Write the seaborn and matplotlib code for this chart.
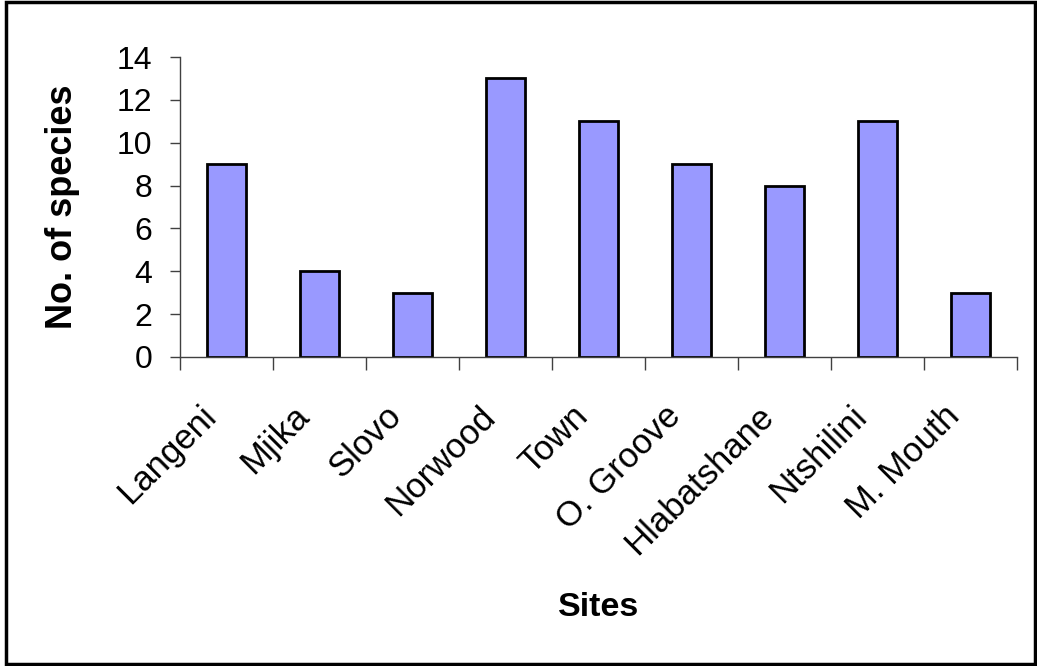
import matplotlib
matplotlib.use("Agg")
import matplotlib.pyplot as plt
import seaborn as sns
import pandas as pd
from matplotlib.patches import Rectangle
from matplotlib.ticker import FixedLocator

sites = ["Langeni", "Mjika", "Slovo", "Norwood", "Town", "O. Groove",
         "Hlabatshane", "Ntshilini", "M. Mouth"]
species = [9, 4, 3, 13, 11, 9, 8, 11, 3]
y_ticks = [0, 2, 4, 6, 8, 10, 12, 14]

sns.set_theme(style="white")
plt.rcParams["font.family"] = ["Liberation Sans", "DejaVu Sans"]
plt.rcParams.update({"text.color": "black", "axes.labelcolor": "black",
                     "xtick.color": "black", "ytick.color": "black"})

df = pd.DataFrame({"Sites": sites, "No. of species": species})

fig = plt.figure(figsize=(10.37, 6.66), dpi=100)
ax = fig.add_axes([0.1736, 0.464, 0.8071, 0.4504])

sns.barplot(data=df, x="Sites", y="No. of species", color="#9999FF",
            saturation=1, width=0.41, edgecolor="black", linewidth=2,
            ax=ax)

ax.set_xlim(-0.5, len(sites) - 0.5)
ax.set_ylim(0, 14)
ax.set_yticks(y_ticks)
ax.set_yticklabels([str(t) for t in y_ticks], fontsize=23)

# rotated category labels, their upper ends sitting just left of each bar centre;
# visible tick marks go on the boundaries between categories
label_offset = 0.17
ax.set_xticks([i - label_offset for i in range(len(sites))])
ax.set_xticklabels(sites, fontsize=25, rotation=45, ha="right",
                   va="center", rotation_mode="anchor")
ax.xaxis.set_minor_locator(FixedLocator([i - 0.5 for i in range(len(sites) + 1)]))
ax.tick_params(axis="x", which="major", length=0, pad=39)
ax.tick_params(axis="x", which="minor", length=9, width=1, color="#404040",
               direction="out", bottom=True)
ax.tick_params(axis="y", which="major", length=7, width=1, color="#404040",
               direction="out", left=True, pad=13)

for side in ["top", "right"]:
    ax.spines[side].set_visible(False)
for side in ["left", "bottom"]:
    ax.spines[side].set_color("#404040")
    ax.spines[side].set_linewidth(1)

ax.set_xlabel("Sites", fontsize=24.5, fontweight="bold")
ax.set_ylabel("No. of species", fontsize=26, fontweight="bold")
ax.xaxis.set_label_coords(0.5, -0.783)
ax.yaxis.label.set_va("center")
ax.yaxis.set_label_coords(-0.141, 0.5)

# chart-area frame
fig.patches.append(Rectangle((0.0058, 0.003), 0.9925, 0.994,
                             transform=fig.transFigure, fill=False,
                             edgecolor="black", linewidth=2.5))

fig.savefig("out.png", dpi=100, facecolor="white")
